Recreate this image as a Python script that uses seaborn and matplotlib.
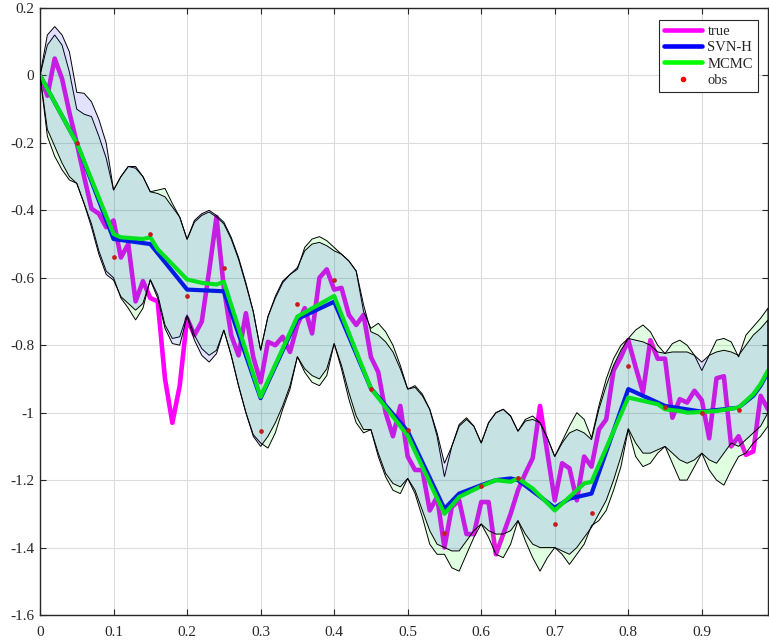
import numpy as np
import matplotlib
matplotlib.use("Agg")
import matplotlib.pyplot as plt
import seaborn as sns
from matplotlib.lines import Line2D

# sample grid of the true path and of the band edges
x_grid = [i / 100 for i in range(100)]

true_y = [0.00, -0.06, 0.05, -0.01, -0.11, -0.20, -0.30, -0.395, -0.41, -0.45,
          -0.43, -0.54, -0.50, -0.67, -0.61, -0.66, -0.67, -0.90, -1.03, -0.92,
          -0.72, -0.77, -0.73, -0.58, -0.42, -0.63, -0.77, -0.83, -0.705, -0.835,
          -0.91, -0.79, -0.80, -0.775, -0.82, -0.74, -0.69, -0.765, -0.60, -0.575,
          -0.635, -0.63, -0.71, -0.74, -0.71, -0.835, -0.88, -1.00, -1.07, -0.98,
          -1.13, -1.17, -1.17, -1.29, -1.25, -1.40, -1.28, -1.26, -1.36, -1.36,
          -1.265, -1.265, -1.42, -1.36, -1.30, -1.23, -1.18, -1.135, -0.98, -1.12,
          -1.26, -1.15, -1.165, -1.26, -1.13, -1.16, -1.05, -1.02, -0.875, -0.835,
          -0.785, -0.865, -0.94, -0.785, -0.84, -0.84, -1.015, -0.96, -0.97, -0.935,
          -0.963, -1.076, -0.898, -0.892, -1.10, -1.07, -1.125, -1.115, -0.95, -0.99]

# SVN-H band (upper / lower)
svn_hi = [0.00, 0.12, 0.145, 0.12, 0.07, -0.05, -0.053, -0.078, -0.13, -0.20,
          -0.34, -0.30, -0.27, -0.27, -0.30, -0.345, -0.35, -0.36, -0.39, -0.42,
          -0.486, -0.43, -0.41, -0.40, -0.415, -0.435, -0.48, -0.54, -0.615, -0.70,
          -0.815, -0.715, -0.655, -0.61, -0.59, -0.57, -0.52, -0.50, -0.495, -0.505,
          -0.52, -0.53, -0.55, -0.58, -0.68, -0.76, -0.77, -0.79, -0.82, -0.87,
          -0.93, -0.925, -0.95, -0.99, -1.06, -1.15, -1.10, -1.04, -1.02, -1.04,
          -1.09, -1.03, -1.00, -0.99, -1.01, -1.055, -1.025, -1.02, -1.03, -1.075,
          -1.13, -1.09, -1.06, -1.05, -1.06, -1.08, -0.99, -0.92, -0.86, -0.815,
          -0.78, -0.785, -0.79, -0.80, -0.82, -0.824, -0.82, -0.82, -0.82, -0.83,
          -0.85, -0.83, -0.82, -0.815, -0.82, -0.83, -0.80, -0.77, -0.75, -0.725]
svn_lo = [0.00, -0.16, -0.21, -0.26, -0.30, -0.32, -0.38, -0.45, -0.53, -0.59,
          -0.607, -0.656, -0.676, -0.696, -0.676, -0.607, -0.66, -0.75, -0.795, -0.80,
          -0.715, -0.785, -0.83, -0.85, -0.825, -0.755, -0.83, -0.92, -1.00, -1.07,
          -1.10, -1.07, -1.03, -0.98, -0.92, -0.834, -0.87, -0.89, -0.90, -0.87,
          -0.795, -0.86, -0.94, -1.01, -1.05, -1.05, -1.12, -1.18, -1.21, -1.22,
          -1.195, -1.23, -1.29, -1.35, -1.39, -1.40, -1.41, -1.41, -1.38, -1.35,
          -1.33, -1.35, -1.36, -1.36, -1.35, -1.32, -1.36, -1.39, -1.40, -1.40,
          -1.40, -1.41, -1.42, -1.40, -1.37, -1.34, -1.30, -1.26, -1.20, -1.13,
          -1.047, -1.09, -1.12, -1.12, -1.11, -1.10, -1.12, -1.14, -1.15, -1.14,
          -1.12, -1.14, -1.15, -1.12, -1.09, -1.10, -1.08, -1.06, -1.04, -1.00]

# MCMC band (upper / lower)
mcmc_hi = [0.00, 0.09, 0.12, 0.09, 0.01, -0.10, -0.115, -0.122, -0.18, -0.245,
           -0.34, -0.30, -0.27, -0.275, -0.30, -0.345, -0.34, -0.335, -0.38, -0.42,
           -0.486, -0.435, -0.415, -0.405, -0.42, -0.44, -0.485, -0.545, -0.62, -0.70,
           -0.815, -0.715, -0.66, -0.615, -0.59, -0.575, -0.51, -0.485, -0.478, -0.49,
           -0.51, -0.53, -0.55, -0.58, -0.70, -0.75, -0.735, -0.76, -0.80, -0.86,
           -0.93, -0.92, -0.945, -0.99, -1.07, -1.19, -1.10, -1.035, -1.015, -1.04,
           -1.09, -1.03, -1.00, -0.99, -1.01, -1.055, -1.02, -1.01, -1.03, -1.075,
           -1.13, -1.085, -1.04, -1.00, -1.02, -1.075, -0.98, -0.90, -0.84, -0.80,
           -0.78, -0.755, -0.74, -0.76, -0.80, -0.825, -0.795, -0.785, -0.80, -0.83,
           -0.875, -0.83, -0.785, -0.78, -0.79, -0.835, -0.77, -0.745, -0.72, -0.69]
mcmc_lo = [0.00, -0.18, -0.24, -0.28, -0.31, -0.32, -0.38, -0.44, -0.52, -0.58,
           -0.60, -0.66, -0.69, -0.725, -0.69, -0.605, -0.65, -0.74, -0.78, -0.775,
           -0.71, -0.77, -0.81, -0.83, -0.815, -0.755, -0.83, -0.92, -1.00, -1.065,
           -1.09, -1.105, -1.06, -0.99, -0.93, -0.834, -0.88, -0.91, -0.92, -0.89,
           -0.795, -0.87, -0.96, -1.03, -1.06, -1.05, -1.13, -1.19, -1.23, -1.24,
           -1.195, -1.24, -1.31, -1.39, -1.42, -1.42, -1.46, -1.47, -1.42, -1.37,
           -1.33, -1.37, -1.42, -1.43, -1.39, -1.32, -1.38, -1.43, -1.47, -1.43,
           -1.40, -1.42, -1.45, -1.42, -1.39, -1.335, -1.32, -1.29, -1.23, -1.16,
           -1.05, -1.13, -1.16, -1.15, -1.12, -1.10, -1.15, -1.20, -1.20, -1.16,
           -1.12, -1.17, -1.20, -1.215, -1.17, -1.13, -1.12, -1.09, -1.07, -1.04]

# posterior means (polylines through their kinks)
svn_x = [0, 0.05, 0.10, 0.15, 0.20, 0.25, 0.30, 0.35, 0.40, 0.45, 0.50, 0.55, 0.57,
         0.60, 0.62, 0.64, 0.65, 0.70, 0.72, 0.75, 0.80, 0.85, 0.90, 0.95, 0.97, 0.98, 0.99]
svn_y = [0, -0.20, -0.485, -0.50, -0.635, -0.64, -0.957, -0.722, -0.671, -0.928, -1.055,
         -1.285, -1.24, -1.215, -1.20, -1.195, -1.20, -1.282, -1.255, -1.24, -0.93, -0.98,
         -0.997, -0.985, -0.95, -0.92, -0.88]
mcmc_x = [0, 0.05, 0.10, 0.11, 0.14, 0.15, 0.16, 0.18, 0.20, 0.22, 0.24, 0.25, 0.30,
          0.35, 0.40, 0.45, 0.50, 0.55, 0.57, 0.60, 0.62, 0.64, 0.65, 0.67, 0.70, 0.72,
          0.74, 0.75, 0.80, 0.82, 0.84, 0.85, 0.87, 0.88, 0.90, 0.92, 0.95, 0.97, 0.98, 0.99]
mcmc_y = [0, -0.20, -0.47, -0.48, -0.485, -0.48, -0.515, -0.56, -0.605, -0.615, -0.62,
          -0.612, -0.953, -0.715, -0.654, -0.928, -1.068, -1.30, -1.25, -1.218, -1.20,
          -1.205, -1.195, -1.225, -1.29, -1.25, -1.21, -1.205, -0.955, -0.965, -0.975,
          -0.99, -0.995, -1.00, -0.998, -0.995, -0.985, -0.945, -0.915, -0.875]

obs_x = [0.05, 0.10, 0.15, 0.20, 0.25, 0.30, 0.35, 0.40, 0.45, 0.50,
         0.55, 0.60, 0.65, 0.70, 0.75, 0.80, 0.85, 0.90, 0.95]
obs_y = [-0.20, -0.5375, -0.469, -0.654, -0.572, -1.055, -0.678, -0.608, -0.930, -1.052,
         -1.357, -1.218, -1.194, -1.330, -1.297, -0.861, -0.982, -1.002, -0.992]

y_ticks = [0.2, 0, -0.2, -0.4, -0.6, -0.8, -1, -1.2, -1.4, -1.6]
y_labels = ["0.2", "0", "-0.2", "-0.4", "-0.6", "-0.8", "-1", "-1.2", "-1.4", "-1.6"]
x_ticks = [0, 0.1, 0.2, 0.3, 0.4, 0.5, 0.6, 0.7, 0.8, 0.9]
x_labels = ["0", "0.1", "0.2", "0.3", "0.4", "0.5", "0.6", "0.7", "0.8", "0.9"]

sns.set_theme(style="whitegrid")
plt.rcParams["font.family"] = ["Liberation Serif", "DejaVu Serif"]
plt.rcParams["axes.unicode_minus"] = False

fig = plt.figure(figsize=(7.69, 6.41), dpi=100)
ax = fig.add_axes([40 / 769, 26 / 641, 728 / 769, 607 / 641])

# all curves first, the translucent bands are laid over them
sns.lineplot(x=x_grid, y=true_y, color="#ff00ff", linewidth=3.3, sort=False,
             estimator=None, ax=ax, zorder=2, legend=False)
sns.lineplot(x=svn_x, y=svn_y, color="#0000ff", linewidth=3.0, sort=False,
             estimator=None, ax=ax, zorder=3, legend=False)
sns.lineplot(x=mcmc_x, y=mcmc_y, color="#00ff00", linewidth=3.0, sort=False,
             estimator=None, ax=ax, zorder=4, legend=False)
ax.plot(obs_x, obs_y, linestyle="none", marker="o", markersize=3.4,
        markeredgewidth=0, color="#ff0000", zorder=5)

xs = np.array(x_grid)
ax.fill(np.r_[xs, xs[::-1]], np.r_[mcmc_hi, mcmc_lo[::-1]],
        facecolor=(0.0, 1.0, 0.0, 0.12), edgecolor="black", linewidth=0.7, zorder=6)
ax.fill(np.r_[xs, xs[::-1]], np.r_[svn_hi, svn_lo[::-1]],
        facecolor=(0.08, 0.08, 1.0, 0.12), edgecolor="black", linewidth=0.7, zorder=7)

ax.set_xlim(0, 0.99)
ax.set_ylim(-1.6, 0.2)
ax.set_xticks(x_ticks)
ax.set_xticklabels(x_labels)
ax.set_yticks(y_ticks)
ax.set_yticklabels(y_labels)
ax.set_xlabel("")
ax.set_ylabel("")

ax.set_facecolor("white")
ax.grid(True, color="#dcdcdc", linewidth=0.8)
ax.set_axisbelow(True)
for side in ["left", "bottom", "top", "right"]:
    ax.spines[side].set_visible(True)
    ax.spines[side].set_color("#262626")
    ax.spines[side].set_linewidth(1.0)
ax.tick_params(axis="both", direction="in", length=4, width=0.8, color="#262626",
               labelsize=11, labelcolor="#262626", top=True, right=True,
               bottom=True, left=True)
ax.tick_params(axis="x", pad=8)
ax.tick_params(axis="y", pad=4)

handles = [Line2D([], [], color="#ff00ff", lw=3.3),
           Line2D([], [], color="#0000ff", lw=3.3),
           Line2D([], [], color="#00ff00", lw=3.3),
           Line2D([], [], color="#ff0000", marker="o", markersize=3, linestyle="none")]
leg = ax.legend(handles, ["true", "SVN-H", "MCMC", "obs"], loc="upper right",
                bbox_to_anchor=(1 - 10 / 728, 1 - 12 / 607), borderaxespad=0,
                fontsize=10.5, handlelength=2.6, handletextpad=0.35, labelspacing=0.2,
                borderpad=0.35, frameon=True, fancybox=False, framealpha=1)
leg.set_zorder(10)
leg.get_frame().set_edgecolor("#262626")
leg.get_frame().set_linewidth(0.8)

fig.savefig("out.png", dpi=100)
